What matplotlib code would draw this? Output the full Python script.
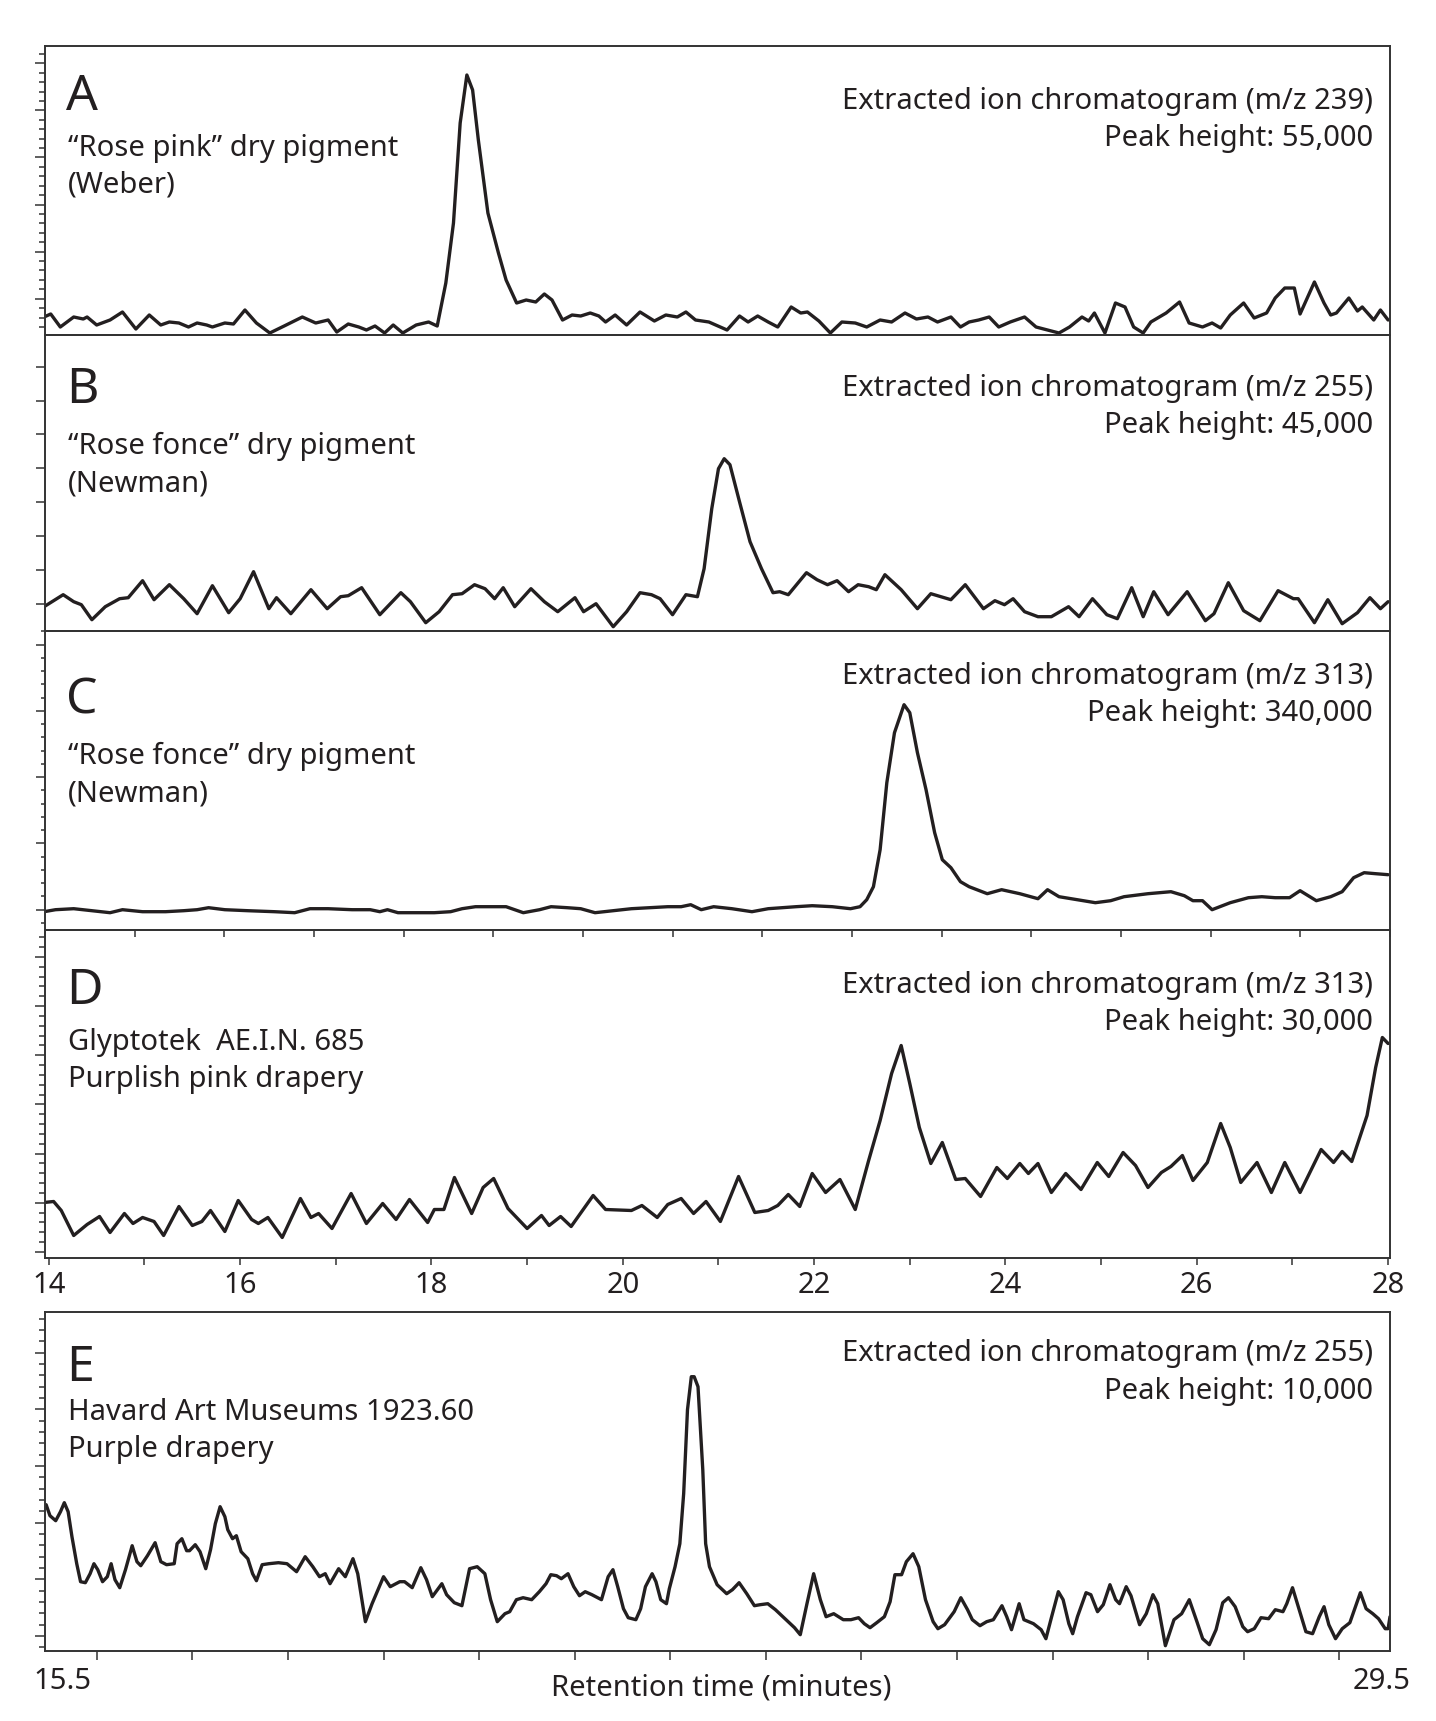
import matplotlib
matplotlib.use("Agg")
import matplotlib.pyplot as plt
from matplotlib.ticker import MultipleLocator, LinearLocator, NullFormatter

plt.rcParams['font.family'] = ['Noto Sans', 'DejaVu Sans']

# ---------------- data (retention time in minutes, intensity in arbitrary units) -------------
time_a = [13.95,14.02,14.12,14.26,14.36,14.40,14.50,14.64,14.77,14.91,15.05,15.17,15.26,15.36,15.46,15.55,15.65,15.71,15.84,15.93,
          16.05,16.17,16.31,16.46,16.65,16.79,16.92,17.01,17.13,17.24,17.32,17.41,17.51,17.60,17.70,17.84,17.97,18.06,18.15,18.23,
          18.30,18.37,18.43,18.49,18.59,18.70,18.78,18.89,18.99,19.09,19.18,19.26,19.37,19.47,19.56,19.66,19.75,19.82,19.92,20.04,
          20.18,20.33,20.45,20.57,20.66,20.76,20.90,21.09,21.22,21.31,21.41,21.52,21.62,21.76,21.86,21.93,22.05,22.17,22.29,22.43,
          22.55,22.69,22.81,22.95,23.07,23.19,23.29,23.43,23.53,23.62,23.72,23.83,23.93,24.05,24.20,24.32,24.44,24.56,24.67,24.80,
          24.87,24.93,25.04,25.15,25.25,25.34,25.44,25.52,25.68,25.82,25.92,26.06,26.16,26.25,26.35,26.49,26.60,26.73,26.82,26.92,
          27.02,27.08,27.23,27.33,27.40,27.46,27.59,27.68,27.73,27.85,27.92,28.00]
signal_a = [18,21,8,18,16,18,10,15,23,6,20,10,13,12,8,12,10,8,12,11,
            25,12,2,9,18,12,15,3,11,8,5,9,2,10,2,10,13,9,52,112,
            212,260,245,195,122,82,55,32,35,33,41,35,15,20,19,22,19,13,20,10,
            23,14,20,18,23,15,13,5,19,13,19,13,8,28,22,23,14,2,13,12,
            8,15,13,22,16,18,13,18,8,13,15,18,8,13,18,8,5,2,8,18,
            14,22,2,32,28,8,2,13,22,33,12,8,12,7,20,32,17,22,37,47,
            47,21,53,32,20,22,37,24,28,15,25,15]

time_b = [13.95,14.15,14.26,14.34,14.45,14.59,14.74,14.83,14.98,15.10,15.26,15.41,15.55,15.71,15.88,16.00,16.14,16.30,16.38,16.53,
          16.74,16.91,17.05,17.13,17.27,17.46,17.68,17.78,17.94,18.08,18.22,18.32,18.45,18.56,18.66,18.75,18.87,19.04,19.18,19.32,
          19.50,19.59,19.72,19.90,20.04,20.18,20.30,20.39,20.52,20.66,20.78,20.85,20.93,21.00,21.06,21.12,21.22,21.33,21.45,21.57,
          21.64,21.73,21.92,22.03,22.14,22.24,22.36,22.46,22.57,22.65,22.74,22.91,23.08,23.22,23.43,23.58,23.77,23.89,23.99,24.08,
          24.20,24.34,24.48,24.66,24.77,24.91,25.06,25.17,25.32,25.44,25.55,25.70,25.90,26.09,26.18,26.33,26.49,26.66,26.85,27.01,
          27.06,27.23,27.37,27.52,27.68,27.81,27.92,28.00]
signal_b = [24,36,29,26,11,24,32,33,50,31,46,32,17,45,18,32,59,22,33,17,
            41,22,34,35,43,16,38,29,8,19,36,37,46,42,32,43,24,42,29,19,
            33,19,27,4,19,38,36,32,16,36,34,62,122,162,172,166,129,89,62,38,
            39,36,58,51,46,50,39,46,44,41,56,41,22,37,31,46,22,30,26,32,
            19,14,14,24,14,32,16,12,43,14,39,16,39,10,17,48,20,10,40,32,
            32,8,31,7,18,33,22,29]

time_c = [13.95,14.07,14.26,14.45,14.64,14.77,14.98,15.22,15.41,15.55,15.67,15.84,16.08,16.36,16.57,16.73,16.92,17.17,17.36,17.46,
          17.54,17.65,17.84,18.03,18.20,18.32,18.46,18.78,18.96,19.13,19.25,19.42,19.56,19.71,19.90,20.09,20.28,20.47,20.61,20.71,
          20.82,20.95,21.14,21.35,21.52,21.81,21.98,22.19,22.38,22.48,22.55,22.62,22.69,22.76,22.84,22.94,23.00,23.08,23.17,23.26,
          23.34,23.43,23.53,23.62,23.81,23.96,24.15,24.34,24.44,24.56,24.75,24.94,25.10,25.24,25.49,25.73,25.87,25.96,26.06,26.16,
          26.35,26.54,26.68,26.82,26.97,27.08,27.25,27.40,27.52,27.64,27.75,27.87,28.00]
signal_c = [18,20,21,19,17,20,18,18,19,20,22,20,19,18,17,21,21,20,20,18,
            20,17,17,17,18,21,23,23,17,20,23,22,21,17,19,21,22,23,23,25,
            20,23,21,18,21,23,24,23,21,23,30,43,80,147,197,225,217,177,140,97,
            70,62,48,43,36,40,36,31,40,33,30,27,29,33,36,38,34,29,29,20,
            27,32,33,32,32,39,29,33,38,52,57,56,55]

time_d = [13.95,14.05,14.13,14.26,14.40,14.53,14.64,14.79,14.88,14.98,15.10,15.20,15.36,15.50,15.60,15.69,15.84,15.98,16.12,16.19,
          16.29,16.44,16.63,16.74,16.82,16.96,17.16,17.32,17.49,17.63,17.77,17.96,18.03,18.13,18.24,18.42,18.54,18.65,18.80,19.00,
          19.15,19.23,19.35,19.46,19.69,19.82,20.09,20.20,20.36,20.47,20.61,20.74,20.87,21.02,21.21,21.38,21.52,21.62,21.73,21.85,
          21.98,22.12,22.27,22.43,22.57,22.69,22.81,22.91,23.00,23.10,23.22,23.34,23.48,23.58,23.74,23.91,24.02,24.15,24.24,24.34,
          24.48,24.63,24.79,24.96,25.08,25.23,25.36,25.49,25.63,25.73,25.85,25.96,26.11,26.25,26.35,26.46,26.63,26.78,26.92,27.08,
          27.30,27.43,27.52,27.62,27.78,27.87,27.94,28.00]
signal_d = [55,56,47,22,33,41,25,44,34,40,36,22,51,32,36,47,26,57,38,34,
            40,20,59,40,44,29,64,34,54,38,58,35,48,48,80,44,70,79,49,29,
            42,32,41,31,62,48,47,52,40,53,59,44,56,36,81,45,47,52,63,51,
            84,65,78,48,97,137,184,212,174,130,94,115,78,79,61,90,79,94,84,94,
            65,84,68,95,81,105,92,70,85,91,102,77,95,134,110,75,95,65,95,65,
            108,95,106,96,142,190,220,214]

time_e = [15.47,15.51,15.57,15.62,15.66,15.70,15.74,15.79,15.83,15.88,15.93,15.97,16.01,16.06,16.11,16.15,16.19,16.24,16.30,16.37,
          16.42,16.46,16.53,16.61,16.67,16.73,16.81,16.84,16.89,16.94,16.97,17.03,17.08,17.14,17.19,17.24,17.29,17.34,17.37,17.42,
          17.46,17.51,17.58,17.63,17.67,17.73,17.80,17.90,17.99,18.09,18.18,18.26,18.33,18.39,18.44,18.53,18.60,18.68,18.73,18.81,
          18.88,19.00,19.07,19.17,19.22,19.30,19.39,19.45,19.51,19.61,19.66,19.74,19.82,19.90,19.98,20.06,20.12,20.19,20.27,20.32,
          20.39,20.46,20.55,20.63,20.70,20.75,20.81,20.86,20.93,20.99,21.05,21.11,21.18,21.28,21.35,21.40,21.45,21.51,21.56,21.64,
          21.69,21.74,21.81,21.85,21.90,21.96,21.99,22.05,22.10,22.14,22.18,22.22,22.25,22.29,22.34,22.37,22.41,22.49,22.59,22.65,
          22.72,22.80,22.88,22.94,23.02,23.10,23.20,23.30,23.36,23.43,23.50,23.57,23.63,23.71,23.81,23.89,23.97,24.03,24.09,24.16,
          24.24,24.30,24.35,24.42,24.47,24.54,24.60,24.67,24.75,24.80,24.87,24.97,25.04,25.11,25.16,25.24,25.31,25.38,25.47,25.52,
          25.57,25.65,25.70,25.80,25.88,25.93,25.99,26.06,26.11,26.17,26.21,26.26,26.35,26.40,26.47,26.53,26.60,26.66,26.70,26.77,
          26.82,26.91,26.98,27.05,27.10,27.18,27.27,27.35,27.43,27.51,27.57,27.64,27.71,27.78,27.84,27.91,27.99,28.04,28.11,28.18,
          28.26,28.33,28.41,28.45,28.51,28.58,28.65,28.72,28.79,28.84,28.89,28.96,29.03,29.11,29.22,29.28,29.35,29.41,29.48,29.51,
          29.53]
signal_e = [146,135,130,139,148,139,114,87,69,68,77,87,81,69,74,87,71,63,81,105,
            89,85,95,108,89,86,87,107,112,100,100,106,99,82,101,127,144,134,121,112,
            115,99,92,77,70,86,87,88,87,79,94,84,74,77,67,82,74,92,77,29,
            47,74,64,69,69,63,83,71,54,67,56,48,45,82,84,77,51,29,37,39,
            51,53,51,59,67,76,75,72,77,64,55,59,56,51,74,81,64,42,33,31,
            42,64,77,69,51,47,62,84,107,157,241,274,274,264,181,107,84,66,57,61,
            68,57,45,46,47,41,32,23,16,47,77,51,34,37,31,31,33,27,23,28,
            34,49,76,76,89,97,84,51,29,22,26,39,53,41,31,25,29,31,45,34,
            21,47,31,27,21,12,34,59,51,27,17,34,58,56,39,46,66,51,47,64,
            55,26,37,56,47,5,31,37,51,29,12,6,21,48,53,44,24,19,22,33,
            32,41,39,47,63,41,19,17,34,44,26,12,22,28,58,42,37,32,22,22,
            34]

letters = ['A', 'B', 'C', 'D', 'E']
sample_lines = [['\u201cRose pink\u201d dry pigment', '(Weber)'],
                ['\u201cRose fonce\u201d dry pigment', '(Newman)'],
                ['\u201cRose fonce\u201d dry pigment', '(Newman)'],
                ['Glyptotek  AE.I.N. 685', 'Purplish pink drapery'],
                ['Havard Art Museums 1923.60', 'Purple drapery']]
mz_values = ['239', '255', '313', '313', '255']
peak_heights = ['55,000', '45,000', '340,000', '30,000', '10,000']
x_ticklabels_e = ['15.5', '29.5']
x_label = 'Retention time (minutes)'

# ---------------- layout (pixels of the 1436 x 1721 canvas) ----------------
W, H = 1436, 1721
INK = '#231f20'
SPINE = '#333333'
FS = 21.0
PX = 0.72  # points per pixel at dpi 100

fig = plt.figure(figsize=(W / 100, H / 100), dpi=100)
fig.patch.set_facecolor('white')

X0, X1 = 45, 1390
panels = [  # top, bottom, major step, major offset, minor step, minor offset, major len, minor len
    dict(top=46, bot=335, maj=47.08, moff=36.3, mnr=9.416, noff=8.05, ml=10, nl=6.5),
    dict(top=335, bot=630.7, maj=33.85, moff=27.0, mnr=None, noff=0, ml=9, nl=0),
    dict(top=630.7, bot=929.7, maj=66.25, moff=20.0, mnr=13.25, noff=6.75, ml=9, nl=4),
    dict(top=929.7, bot=1257.5, maj=49.17, moff=5.5, mnr=9.834, noff=5.5, ml=10, nl=6),
    dict(top=1312, bot=1650.7, maj=56.65, moff=14.7, mnr=11.33, noff=3.37, ml=10, nl=6),
]
text_base = [  # letter, left line1, left line2, right line1, right line2 (baselines, px from top)
    (110, 156, 192.7, 108.5, 146),
    (403, 454, 491.5, 396, 433),
    (714, 764, 801, 684, 721),
    (1004, 1050, 1087, 993, 1030),
    (1381, 1420.5, 1457.5, 1361.5, 1399),
]
times = [time_a, time_b, time_c, time_d, time_e]
signals = [signal_a, signal_b, signal_c, signal_d, signal_e]
xlims = [(13.96, 28.02)] * 4 + [(15.458, 29.53)]


def put(x, y, s, size=FS, ha='left'):
    fig.text(x / W, 1 - y / H, s, fontsize=size, ha=ha, va='baseline', color=INK)


axes = []
for i, p in enumerate(panels):
    ax = fig.add_axes([X0 / W, 1 - p['bot'] / H, (X1 - X0) / W, (p['bot'] - p['top']) / H])
    ax.patch.set_facecolor('none')
    ax.plot(times[i], signals[i], color=INK, lw=2.4, solid_joinstyle='round', solid_capstyle='round')
    ax.set_xlim(*xlims[i])
    ax.set_ylim(0, p['bot'] - p['top'])
    for s in ax.spines.values():
        s.set_linewidth(1.4)
        s.set_color(SPINE)
    ax.yaxis.set_major_locator(MultipleLocator(p['maj'], offset=p['moff']))
    if p['mnr']:
        ax.yaxis.set_minor_locator(MultipleLocator(p['mnr'], offset=p['noff']))
    ax.yaxis.set_major_formatter(NullFormatter())
    ax.tick_params(axis='y', which='major', direction='out', length=p['ml'] * PX, width=1.1,
                   color=SPINE, left=True, right=False, labelleft=False)
    ax.tick_params(axis='y', which='minor', direction='out', length=p['nl'] * PX, width=1.1,
                   color=SPINE, left=True, right=False)
    axes.append(ax)

    lb, l1, l2, r1, r2 = text_base[i]
    put(66, lb, letters[i], size=36)
    put(68, l1, sample_lines[i][0])
    put(68, l2, sample_lines[i][1])
    put(1373, r1, 'Extracted ion chromatogram (m/z %s)' % mz_values[i], ha='right')
    put(1373, r2, 'Peak height: %s' % peak_heights[i], ha='right')

ax_a, ax_b, ax_c, ax_d, ax_e = axes
for ax in (ax_a, ax_b):
    ax.tick_params(axis='x', which='both', bottom=False, top=False, labelbottom=False)

# ticks along the C / D boundary
ax_c.xaxis.set_major_locator(LinearLocator(16))
ax_c.tick_params(axis='x', which='major', direction='out', length=7 * PX, width=1.1, color=SPINE,
                 bottom=True, top=False, labelbottom=False)

# D: labelled retention-time axis
ax_d.xaxis.set_major_locator(MultipleLocator(2))
ax_d.xaxis.set_minor_locator(MultipleLocator(1))
ax_d.xaxis.set_major_formatter(lambda v, pos: '%d' % round(v))
ax_d.tick_params(axis='x', which='both', direction='out', length=6.5 * PX, width=1.1, color=SPINE,
                 bottom=True, top=False)
ax_d.tick_params(axis='x', which='major', labelsize=FS, labelcolor=INK, pad=5)

# E: unlabelled minute ticks, end labels only
ax_e.xaxis.set_major_locator(MultipleLocator(1))
ax_e.tick_params(axis='x', which='major', direction='out', length=9 * PX, width=1.1, color=SPINE,
                 bottom=True, top=False, labelbottom=False)
put(63, 1689, x_ticklabels_e[0], ha='center')
put(1382, 1689, x_ticklabels_e[1], ha='center')
put(721, 1695, x_label, ha='center')

fig.savefig('out.png', dpi=100, facecolor='white')
